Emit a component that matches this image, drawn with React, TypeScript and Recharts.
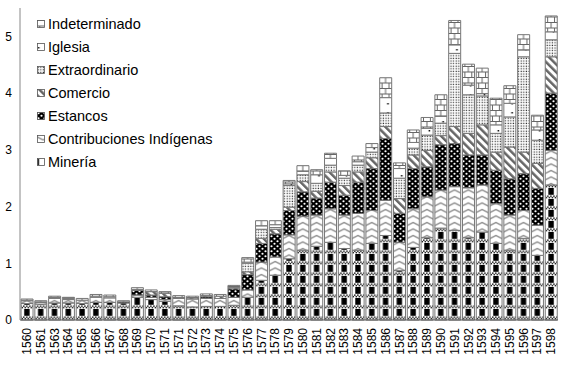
import { BarChart, Bar, XAxis, YAxis, Legend } from "recharts";

// etiquetas tal como aparecen en el original (1562 no figura, 1571 va dos veces)
const years = [
  "1560", "1561", "1563", "1564", "1565", "1566", "1567", "1568", "1569", "1570",
  "1571", "1571", "1572", "1573", "1574", "1575", "1576", "1577", "1578", "1579",
  "1580", "1581", "1582", "1583", "1584", "1585", "1586", "1587", "1588", "1589",
  "1590", "1591", "1592", "1593", "1594", "1595", "1596", "1597", "1598",
];

const mineria = [
  0.29, 0.28, 0.3, 0.3, 0.29, 0.31, 0.31, 0.3, 0.4, 0.36,
  0.33, 0.25, 0.23, 0.24, 0.24, 0.26, 0.4, 0.7, 0.79, 1.08,
  1.23, 1.3, 1.37, 1.26, 1.23, 1.35, 1.49, 0.87, 1.28, 1.45,
  1.62, 1.58, 1.45, 1.55, 1.35, 1.23, 1.44, 1.14, 2.38,
];
const contribuciones = [
  0.05, 0.03, 0.08, 0.06, 0.06, 0.09, 0.08, 0, 0.04, 0.04,
  0.03, 0.13, 0.14, 0.14, 0.14, 0.14, 0.13, 0.32, 0.32, 0.42,
  0.6, 0.55, 0.59, 0.59, 0.65, 0.58, 0.62, 0.5, 0.68, 0.72,
  0.67, 0.77, 0.88, 0.83, 0.7, 0.62, 0.49, 0.53, 0.61,
];
const estancos = [
  0, 0, 0, 0, 0, 0, 0, 0.02, 0.08, 0.04,
  0.05, 0, 0, 0.03, 0, 0.15, 0.27, 0.33, 0.41, 0.43,
  0.43, 0.3, 0.47, 0.35, 0.55, 0.74, 1.09, 0.51, 0.71, 0.53,
  0.8, 0.76, 0.58, 0.53, 0.59, 0.64, 0.65, 0.65, 1.01,
];
const comercio = [
  0, 0, 0, 0, 0, 0, 0, 0, 0.02, 0.06,
  0.06, 0.02, 0.02, 0.02, 0.04, 0.02, 0.05, 0.09, 0.08, 0.06,
  0.18, 0.12, 0.18, 0.17, 0.18, 0.19, 0.21, 0.26, 0.24, 0.29,
  0.16, 0.3, 0.38, 0.53, 0.32, 0.56, 0.38, 0.44, 0.64,
];
const extraordinario = [
  0, 0, 0, 0, 0, 0, 0, 0, 0, 0,
  0, 0, 0, 0, 0, 0, 0.15, 0.16, 0.03, 0.38,
  0.12, 0.14, 0.12, 0.13, 0.12, 0.1, 0.24, 0.36, 0.12, 0.27,
  0.22, 1.29, 0.68, 0.51, 0.33, 0.53, 1.68, 0.41, 0.3,
];
const iglesia = [
  0.01, 0.01, 0.02, 0.02, 0, 0.02, 0.02, 0, 0, 0,
  0, 0, 0, 0, 0, 0.01, 0.02, 0.06, 0.05, 0.03,
  0.06, 0.15, 0.12, 0.05, 0.06, 0.08, 0.27, 0.17, 0.1, 0.12,
  0.12, 0.15, 0.17, 0.04, 0.15, 0.24, 0.12, 0.18, 0.14,
];
const indeterminado = [
  0.02, 0.02, 0.02, 0.02, 0.03, 0.03, 0.03, 0.02, 0.03, 0.03,
  0.03, 0.03, 0.03, 0.03, 0.03, 0.03, 0.08, 0.09, 0.07, 0.06,
  0.1, 0.09, 0.09, 0.08, 0.1, 0.07, 0.35, 0.1, 0.22, 0.19,
  0.38, 0.43, 0.37, 0.45, 0.47, 0.31, 0.27, 0.26, 0.28,
];

const yTicks = [0, 1, 2, 3, 4, 5];

const W = 566;
const H = 369;
const LEFT = 20;
const RIGHT = 8;
const TOP = 8;
const XAXIS_H = 49;
const STEP = (W - LEFT - RIGHT) / years.length;
const BASE = H - XAXIS_H;
const FONT = '"Liberation Sans", Arial, sans-serif';

const series = [
  { key: "mineria", name: "Minería", fill: "url(#pMineria)" },
  { key: "contribuciones", name: "Contribuciones Indígenas", fill: "url(#pContrib)" },
  { key: "estancos", name: "Estancos", fill: "url(#pEstancos)" },
  { key: "comercio", name: "Comercio", fill: "url(#pComercio)" },
  { key: "extraordinario", name: "Extraordinario", fill: "url(#pExtra)" },
  { key: "iglesia", name: "Iglesia", fill: "url(#pIglesia)" },
  { key: "indeterminado", name: "Indeterminado", fill: "url(#pIndet)" },
];

const data = years.map((year, i) => ({
  idx: i,
  year,
  mineria: mineria[i],
  contribuciones: contribuciones[i],
  estancos: estancos[i],
  comercio: comercio[i],
  extraordinario: extraordinario[i],
  iglesia: iglesia[i],
  indeterminado: indeterminado[i],
}));

// bandas de cuadritos del patrón de minería
const checker = Array.from({ length: Math.ceil(STEP / 1.5) }, (_, j) => j);

function YearTick(props: any) {
  const { x, y, payload } = props;
  return (
    <text
      x={x}
      y={y}
      transform={`rotate(-90 ${x} ${y})`}
      textAnchor="end"
      dy="0.35em"
      fontSize={12}
      fontFamily={FONT}
      fill="#000"
    >
      {years[payload.value]}
    </text>
  );
}

function LegendBox() {
  return (
    <div style={{ fontFamily: FONT, fontSize: 14.5, color: "#000", lineHeight: "23px" }}>
      {[...series].reverse().map((s) => (
        <div key={s.key} style={{ height: 23, display: "flex", alignItems: "center", whiteSpace: "nowrap" }}>
          <svg width={9} height={9} style={{ marginRight: 2 }}>
            <rect x={0.5} y={0.5} width={7} height={7} fill={s.fill} stroke="#555" strokeWidth={0.8} />
          </svg>
          <span>{s.name}</span>
        </div>
      ))}
    </div>
  );
}

export default function App() {
  return (
    <div style={{ position: "absolute", left: 0, top: 0, width: W, height: H, background: "#fff" }}>
      <BarChart
        width={W}
        height={H}
        data={data}
        margin={{ top: TOP, right: RIGHT, left: 0, bottom: 0 }}
        barCategoryGap="7.5%"
      >
        <defs>
          <pattern id="pMineria" patternUnits="userSpaceOnUse" x={LEFT} y={BASE} width={STEP} height={11}>
            <rect width={STEP} height={11} fill="#fff" />
            <rect x={STEP / 2 - 2.7} y={0} width={5.4} height={6.8} fill="#000" />
            {checker.map((j) => (
              <rect key={j} x={j * 1.5} y={7.4 + (j % 2) * 1.5} width={1.5} height={1.5} fill="#222" />
            ))}
          </pattern>
          <pattern id="pContrib" patternUnits="userSpaceOnUse" x={LEFT} y={0} width={STEP} height={6.5}>
            <rect width={STEP} height={6.5} fill="#fff" />
            <path
              d={`M0,5 L${STEP / 2},1.5 L${STEP},5`}
              stroke="#8c8c8c"
              strokeWidth={1.3}
              fill="none"
            />
          </pattern>
          <pattern id="pEstancos" patternUnits="userSpaceOnUse" width={6} height={5}>
            <rect width={6} height={5} fill="#000" />
            <circle cx={1.5} cy={1.25} r={1.1} fill="#fff" />
            <circle cx={4.5} cy={3.75} r={1.1} fill="#fff" />
          </pattern>
          <pattern id="pComercio" patternUnits="userSpaceOnUse" width={5.5} height={5.5} patternTransform="rotate(-45)">
            <rect width={5.5} height={5.5} fill="#fff" />
            <rect width={2.5} height={5.5} fill="#666" />
          </pattern>
          <pattern id="pExtra" patternUnits="userSpaceOnUse" width={2.6} height={2.6}>
            <rect width={2.6} height={2.6} fill="#fff" />
            <rect x={0.6} y={0.6} width={1.2} height={1.2} fill="#333" />
          </pattern>
          <pattern id="pIglesia" patternUnits="userSpaceOnUse" x={LEFT} width={STEP} height={9}>
            <rect width={STEP} height={9} fill="#fff" />
            <rect x={STEP * 0.62} y={4} width={1.5} height={1.5} fill="#000" />
          </pattern>
          <pattern id="pIndet" patternUnits="userSpaceOnUse" x={LEFT} y={0} width={STEP} height={11}>
            <rect width={STEP} height={11} fill="#fff" />
            <path
              d={`M0,0.5 H${STEP} M0,6 H${STEP} M${STEP / 2},0.5 V6 M${STEP * 0.25},6 V11 M${STEP * 0.75},6 V11`}
              stroke="#666"
              strokeWidth={1}
              fill="none"
            />
          </pattern>
        </defs>
        <XAxis
          dataKey="idx"
          type="category"
          height={XAXIS_H}
          interval={0}
          tickLine={false}
          axisLine={{ stroke: "#555" }}
          tick={(p: any) => <YearTick {...p} />}
        />
        <YAxis
          type="number"
          domain={[0, 5.5]}
          ticks={yTicks}
          width={LEFT}
          tickLine={false}
          axisLine={{ stroke: "#888" }}
          tick={{ fill: "#000", fontSize: 12, fontFamily: FONT }}
        />
        <Legend
          layout="vertical"
          align="center"
          verticalAlign="middle"
          content={() => <LegendBox />}
          wrapperStyle={{ left: 37, top: 13, width: 200 }}
        />
        {series.map((s) => (
          <Bar
            key={s.key}
            dataKey={s.key}
            name={s.name}
            stackId="a"
            fill={s.fill}
            stroke="#777"
            strokeWidth={1}
            isAnimationActive={false}
          />
        ))}
      </BarChart>
    </div>
  );
}
